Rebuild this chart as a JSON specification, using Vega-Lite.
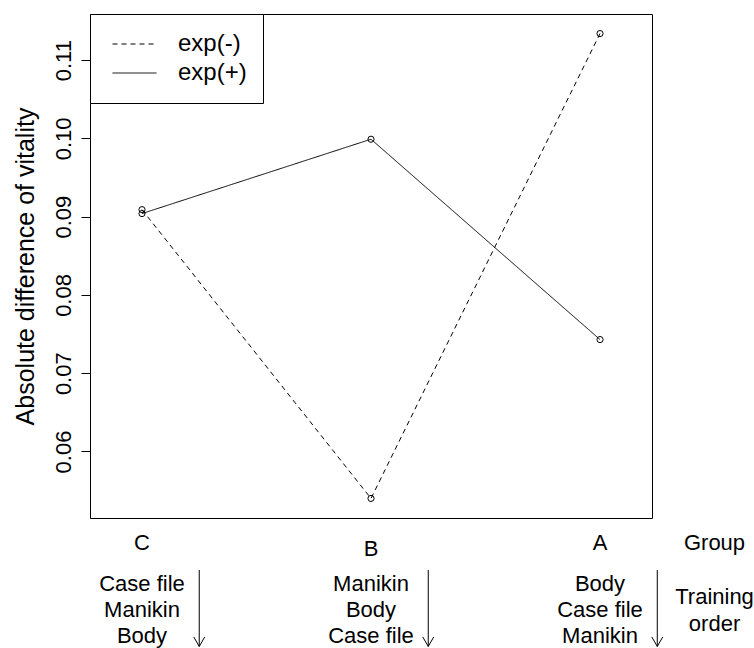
{
  "$schema": "https://vega.github.io/schema/vega-lite/v6.json",
  "width": 562,
  "height": 504,
  "autosize": {"type": "none"},
  "padding": {"left": 90, "top": 14, "right": 102, "bottom": 130},
  "background": "white",
  "config": {
    "font": "Liberation Sans",
    "view": {"stroke": "black", "strokeWidth": 1},
    "legend": {
      "orient": "top-left",
      "offset": 0,
      "padding": 16,
      "strokeColor": "black",
      "fillColor": "white",
      "cornerRadius": 0,
      "symbolType": "stroke",
      "symbolSize": 1936,
      "symbolStrokeWidth": 1,
      "symbolStrokeColor": "black",
      "symbolOffset": 6,
      "labelFont": "Liberation Sans",
      "labelFontSize": 24,
      "labelColor": "black",
      "labelOffset": 21,
      "rowPadding": 1,
      "clipHeight": 28
    }
  },
  "datasets": {
    "vitality": [
      {"order": 1, "group": "C", "series": "exp(-)", "value": 0.0909},
      {"order": 2, "group": "B", "series": "exp(-)", "value": 0.0540},
      {"order": 3, "group": "A", "series": "exp(-)", "value": 0.1134},
      {"order": 1, "group": "C", "series": "exp(+)", "value": 0.0904},
      {"order": 2, "group": "B", "series": "exp(+)", "value": 0.0999},
      {"order": 3, "group": "A", "series": "exp(+)", "value": 0.0743}
    ],
    "annot": [
      {"x": 1, "line": 0.96, "label": "C"},
      {"x": 2, "line": 1.19, "label": "B"},
      {"x": 3, "line": 0.96, "label": "A"},
      {"x": 3.5, "line": 0.96, "label": "Group"},
      {"x": 1, "line": 2.54, "label": "Case file"},
      {"x": 1, "line": 3.54, "label": "Manikin"},
      {"x": 1, "line": 4.54, "label": "Body"},
      {"x": 2, "line": 2.54, "label": "Manikin"},
      {"x": 2, "line": 3.54, "label": "Body"},
      {"x": 2, "line": 4.54, "label": "Case file"},
      {"x": 3, "line": 2.54, "label": "Body"},
      {"x": 3, "line": 3.54, "label": "Case file"},
      {"x": 3, "line": 4.54, "label": "Manikin"},
      {"x": 3.5, "line": 3.04, "label": "Training"},
      {"x": 3.5, "line": 4.06, "label": "order"}
    ],
    "arrows": [
      {"x": 1.25, "start": 2.0, "tip": 4.94},
      {"x": 2.25, "start": 2.0, "tip": 4.94},
      {"x": 3.25, "start": 2.0, "tip": 4.94}
    ]
  },
  "layer": [
    {
      "data": {"name": "vitality"},
      "mark": {"type": "line", "color": "black", "strokeWidth": 1},
      "encoding": {
        "x": {"field": "order", "type": "quantitative", "scale": {"domain": [0.773, 3.227], "nice": false, "zero": false}, "axis": null},
        "y": {
          "field": "value", "type": "quantitative",
          "scale": {"domain": [0.0515, 0.1159], "nice": false, "zero": false},
          "axis": {
            "values": [0.06, 0.07, 0.08, 0.09, 0.1, 0.11],
            "format": ".2f",
            "grid": false,
            "domain": false,
            "tickColor": "black",
            "tickSize": 9,
            "tickWidth": 1,
            "labelAngle": 270,
            "labelAlign": "center",
            "labelBaseline": "alphabetic",
            "labelPadding": 11,
            "labelFont": "Liberation Sans",
            "labelFontSize": 22,
            "labelColor": "black",
            "labelFlush": false,
            "labelOverlap": false,
            "title": "Absolute difference of vitality",
            "titleFont": "Liberation Sans",
            "titleFontSize": 25,
            "titleFontWeight": "normal",
            "titleColor": "black",
            "titleAngle": 270,
            "titleAlign": "center",
            "titleBaseline": "alphabetic",
            "titleX": -57,
            "titleY": 252
          }
        },
        "strokeDash": {
          "field": "series", "type": "nominal",
          "scale": {"domain": ["exp(-)", "exp(+)"], "range": [[5, 4], [1, 0]]},
          "legend": {"title": null}
        }
      }
    },
    {
      "data": {"name": "vitality"},
      "mark": {"type": "point", "shape": "circle", "filled": false, "size": 38, "stroke": "black", "strokeWidth": 1, "opacity": 1},
      "encoding": {
        "x": {"field": "order", "type": "quantitative", "scale": {"domain": [0.773, 3.227], "nice": false, "zero": false}, "axis": null},
        "y": {"field": "value", "type": "quantitative", "scale": {"domain": [0.0515, 0.1159], "nice": false, "zero": false}, "axis": null}
      }
    },
    {
      "data": {"name": "annot"},
      "mark": {"type": "text", "font": "Liberation Sans", "fontSize": 22, "color": "black", "align": "center", "baseline": "middle"},
      "encoding": {
        "x": {"field": "x", "type": "quantitative", "scale": {"domain": [0.773, 3.227], "nice": false, "zero": false}, "axis": null},
        "y": {"field": "line", "type": "quantitative", "scale": {"domain": [0, -19.3846], "nice": false, "zero": false}, "axis": null},
        "text": {"field": "label"}
      }
    },
    {
      "data": {"name": "arrows"},
      "mark": {"type": "rule", "color": "black", "strokeWidth": 1},
      "encoding": {
        "x": {"field": "x", "type": "quantitative", "scale": {"domain": [0.773, 3.227], "nice": false, "zero": false}, "axis": null},
        "y": {"field": "start", "type": "quantitative", "scale": {"domain": [0, -19.3846], "nice": false, "zero": false}, "axis": null},
        "y2": {"field": "tip"}
      }
    },
    {
      "data": {"name": "arrows"},
      "mark": {"type": "point", "shape": "M-0.5,-0.866L0,0L0.5,-0.866", "filled": false, "size": 484, "stroke": "black", "strokeWidth": 1, "opacity": 1},
      "encoding": {
        "x": {"field": "x", "type": "quantitative", "scale": {"domain": [0.773, 3.227], "nice": false, "zero": false}, "axis": null},
        "y": {"field": "tip", "type": "quantitative", "scale": {"domain": [0, -19.3846], "nice": false, "zero": false}, "axis": null}
      }
    }
  ],
  "resolve": {"scale": {"y": "independent"}}
}
